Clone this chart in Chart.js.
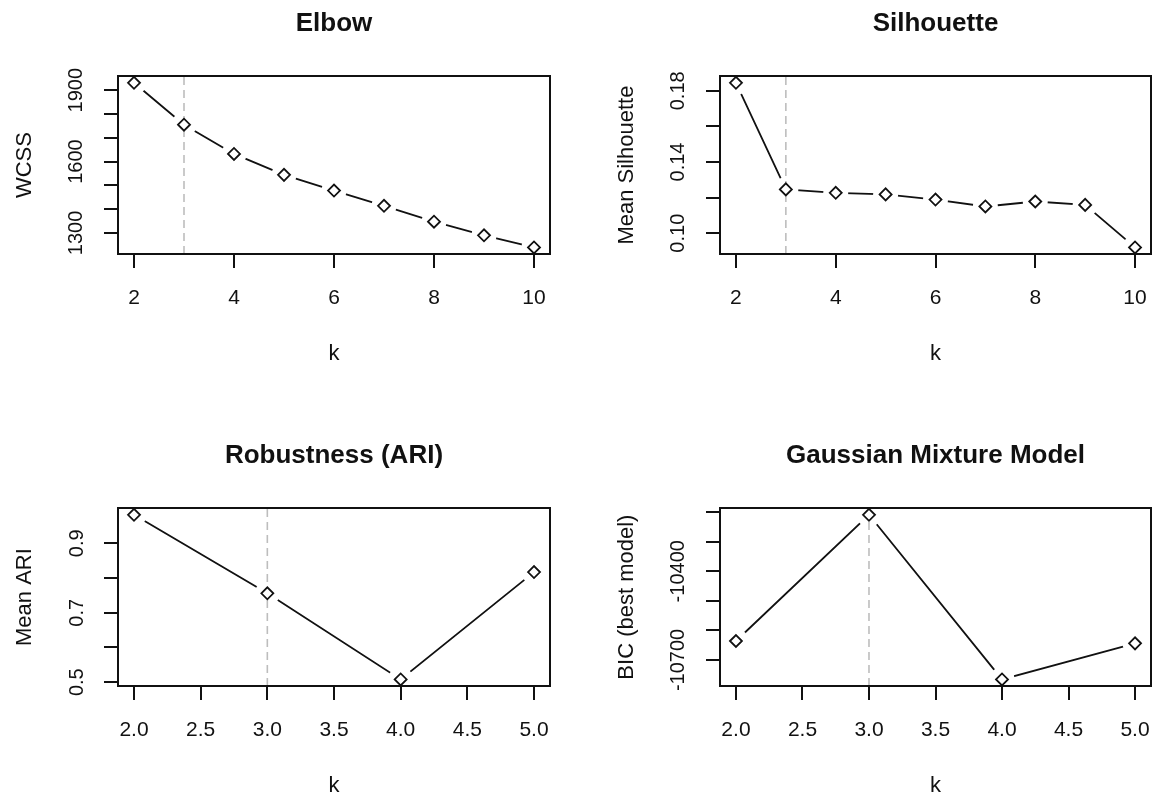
<!DOCTYPE html>
<html>
<head>
<meta charset="utf-8">
<title>Choosing k</title>
<script src="https://cdn.jsdelivr.net/npm/chart.js@4.4.1/dist/chart.umd.min.js"></script>
<style>
  html, body { margin: 0; padding: 0; background: #fff; overflow: hidden; }
  body { width: 1158px; height: 800px; position: relative; }
  canvas { position: absolute; }
</style>
</head>
<body>
<canvas id="elbow"></canvas>
<canvas id="silhouette"></canvas>
<canvas id="ari"></canvas>
<canvas id="gmm"></canvas>
<script>
'use strict';
// values
const kWide = [2, 3, 4, 5, 6, 7, 8, 9, 10];
const kNarrow = [2, 3, 4, 5];
const wcss = [1931, 1755, 1632, 1544, 1478, 1414, 1347, 1290, 1239];
const meanSilhouette = [0.1845, 0.1246, 0.1227, 0.1218, 0.1189, 0.1150, 0.1178, 0.1159, 0.0920];
const meanAri = [0.982, 0.756, 0.508, 0.817];
const bic = [-10636, -10209, -10766, -10644];
const bestK = 3;

// tick positions and their labels (R drops labels that would overlap)
const kWideTicks = [2, 4, 6, 8, 10];
const kWideLabels = ['2', '4', '6', '8', '10'];
const kNarrowTicks = [2, 2.5, 3, 3.5, 4, 4.5, 5];
const kNarrowLabels = ['2.0', '2.5', '3.0', '3.5', '4.0', '4.5', '5.0'];
const wcssTicks = [1300, 1400, 1500, 1600, 1700, 1800, 1900];
const wcssLabels = ['1300', '', '', '1600', '', '', '1900'];
const silTicks = [0.10, 0.12, 0.14, 0.16, 0.18];
const silLabels = ['0.10', '', '0.14', '', '0.18'];
const ariTicks = [0.5, 0.6, 0.7, 0.8, 0.9];
const ariLabels = ['0.5', '', '0.7', '', '0.9'];
const bicTicks = [-10700, -10600, -10500, -10400, -10300, -10200];
const bicLabels = ['-10700', '', '', '-10400', '', ''];

const INK = '#111';
const AXIS_W = 106;
Chart.defaults.font.family = "'Liberation Sans', Arial, Helvetica, sans-serif";
Chart.defaults.color = INK;

// R pads the data range by 4% on each side
function rRange(vals) {
  const lo = Math.min(...vals), hi = Math.max(...vals);
  const d = (hi - lo) * 0.04;
  return [lo - d, hi + d];
}

function panel(id, o) {
  const canvas = document.getElementById(id);
  canvas.width = AXIS_W * 2 + o.plotWidth;
  canvas.height = 369;
  canvas.style.left = o.left + 'px';
  canvas.style.top = o.top + 'px';

  const points = o.k.map((k, i) => ({x: k, y: o.values[i]}));
  const xLim = rRange(o.k);
  const yLim = rRange(o.values);
  const frame = {display: true, color: INK, width: 2, z: 1};

  new Chart(canvas, {
    type: 'line',
    data: {
      datasets: [
        {data: points, borderColor: INK, borderWidth: 1.8, pointRadius: 0, tension: 0, order: 4,
          xAxisID: 'x', yAxisID: 'y'},
        // white discs make the gaps of type = "b"
        {data: points, showLine: false, pointRadius: 12.5, pointBackgroundColor: '#fff', pointBorderWidth: 0,
          order: 3, xAxisID: 'x', yAxisID: 'y'},
        {data: [{x: bestK, y: yLim[0]}, {x: bestK, y: yLim[1]}], borderColor: '#bdbdbd', borderWidth: 1.6,
          borderDash: [8, 5], pointRadius: 0, order: 2, xAxisID: 'x', yAxisID: 'y'},
        {data: points, showLine: false, pointStyle: 'rectRot', pointRadius: 6, pointBackgroundColor: '#fff',
          pointBorderColor: INK, pointBorderWidth: 1.8, order: 1, xAxisID: 'x', yAxisID: 'y'}
      ]
    },
    options: {
      responsive: false,
      animation: false,
      devicePixelRatio: 1,
      events: [],
      layout: {padding: 0},
      plugins: {
        legend: {display: false},
        tooltip: {enabled: false},
        title: {display: true, text: o.title, color: INK, font: {size: 26, weight: 'bold'},
          padding: {top: 8, bottom: 37}}
      },
      scales: {
        x: {
          type: 'linear', position: 'bottom', min: xLim[0], max: xLim[1],
          afterBuildTicks: s => { s.ticks = o.xTicks.map(v => ({value: v})); },
          afterFit: s => { s.height = 115; },
          ticks: {autoSkip: false, minRotation: 0, maxRotation: 0, padding: 18, color: INK,
            font: {size: 21}, callback: (v, i) => o.xLabels[i]},
          grid: {drawOnChartArea: false, drawTicks: true, tickLength: 14, color: INK, lineWidth: 2, z: 1},
          border: frame,
          title: {display: true, text: 'k', color: INK, font: {size: 22}, padding: {top: 0, bottom: 2}}
        },
        y: {
          type: 'linear', position: 'left', min: yLim[0], max: yLim[1],
          afterBuildTicks: s => { s.ticks = o.yTicks.map(v => ({value: v})); },
          afterFit: s => { s.width = AXIS_W; },
          ticks: {autoSkip: false, minRotation: 90, maxRotation: 90, crossAlign: 'center',
            padding: o.yPad, color: INK, font: {size: 20}, callback: (v, i) => o.yLabels[i]},
          grid: {drawOnChartArea: false, drawTicks: true, tickLength: 14, color: INK, lineWidth: 2, z: 1},
          border: frame,
          title: {display: true, text: o.yTitle, color: INK, font: {size: 22}, padding: {top: 0, bottom: 0}}
        },
        // empty axes only to close the box and keep the title centred over the plot
        x2: {
          type: 'linear', position: 'top', ticks: {display: false},
          grid: {display: true, drawOnChartArea: false, drawTicks: false, lineWidth: 2, z: 1},
          border: frame, afterFit: s => { s.height = 0; }
        },
        y2: {
          type: 'linear', position: 'right', ticks: {display: false},
          grid: {display: true, drawOnChartArea: false, drawTicks: false, lineWidth: 2, z: 1},
          border: frame, afterFit: s => { s.width = AXIS_W; }
        }
      }
    }
  });
}

panel('elbow', {
  title: 'Elbow', yTitle: 'WCSS', k: kWide, values: wcss,
  xTicks: kWideTicks, xLabels: kWideLabels, yTicks: wcssTicks, yLabels: wcssLabels,
  left: 12, top: 0, plotWidth: 432, yPad: 5
});
panel('silhouette', {
  title: 'Silhouette', yTitle: 'Mean Silhouette', k: kWide, values: meanSilhouette,
  xTicks: kWideTicks, xLabels: kWideLabels, yTicks: silTicks, yLabels: silLabels,
  left: 614, top: 0, plotWidth: 431, yPad: 8
});
panel('ari', {
  title: 'Robustness (ARI)', yTitle: 'Mean ARI', k: kNarrow, values: meanAri,
  xTicks: kNarrowTicks, xLabels: kNarrowLabels, yTicks: ariTicks, yLabels: ariLabels,
  left: 12, top: 432, plotWidth: 432, yPad: 13
});
panel('gmm', {
  title: 'Gaussian Mixture Model', yTitle: 'BIC (best model)', k: kNarrow, values: bic,
  xTicks: kNarrowTicks, xLabels: kNarrowLabels, yTicks: bicTicks, yLabels: bicLabels,
  left: 614, top: 432, plotWidth: 431, yPad: -4
});
</script>
</body>
</html>
